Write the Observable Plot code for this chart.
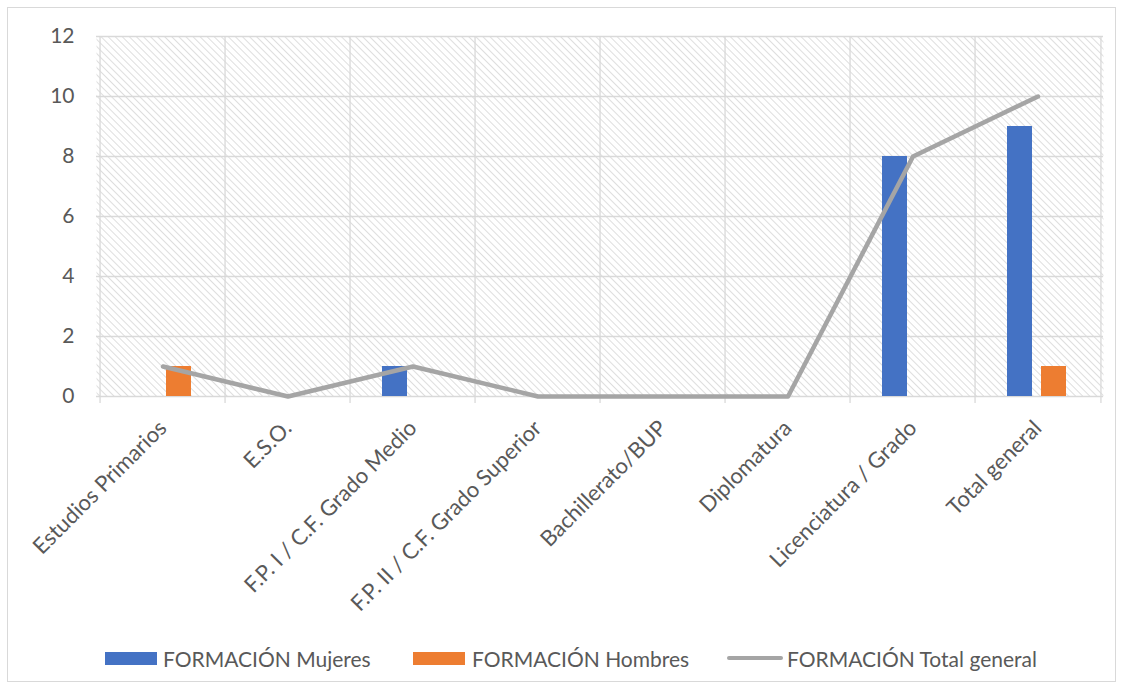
<!DOCTYPE html>
<html>
<head>
<meta charset="utf-8">
<script src="https://cdn.jsdelivr.net/npm/d3@7"></script>
<script src="https://cdn.jsdelivr.net/npm/@observablehq/plot@0.6"></script>
<style>
  html, body { margin: 0; padding: 0; background: #fff; }
  #wrap { position: relative; width: 1123px; height: 690px; font-family: Lato, "Open Sans", sans-serif; }
  #border { position: absolute; left: 7px; top: 7px; width: 1109px; height: 675px; border: 1px solid #d9d9d9; box-sizing: border-box; }
  #chart { position: absolute; left: 0; top: 0; }
  #legend { position: absolute; left: 0; top: 645px; width: 1123px; height: 26px; font-size: 21px; color: #595959; }
  .item { position: absolute; top: 0; height: 26px; display: flex; align-items: center; white-space: nowrap; }
  .sw { width: 52px; height: 13px; margin-right: 6px; }
  .ln { width: 56px; height: 4px; border-radius: 2px; background: #a5a5a5; margin-right: 4px; }
</style>
</head>
<body>
<div id="wrap">
  <div id="border"></div>
  <div id="chart"></div>
  <div id="legend">
    <div class="item" style="left:105px"><div class="sw" style="background:#4472c4"></div>FORMACIÓN Mujeres</div>
    <div class="item" style="left:413px"><div class="sw" style="background:#ed7d31; margin-right:7px"></div>FORMACIÓN Hombres</div>
    <div class="item" style="left:727px"><div class="ln"></div>FORMACIÓN Total general</div>
  </div>
</div>
<script>
// Education levels and counts per series
const categories = [
  "Estudios Primarios",
  "E.S.O.",
  "F.P. I / C.F. Grado Medio",
  "F.P. II / C.F. Grado Superior",
  "Bachillerato/BUP",
  "Diplomatura",
  "Licenciatura / Grado",
  "Total general"
];
const mujeres = [0, 0, 1, 0, 0, 0, 8, 9];
const hombres = [1, 0, 0, 0, 0, 0, 0, 1];
const totalGeneral = [1, 0, 1, 0, 0, 0, 8, 10];
const yTicks = [0, 2, 4, 6, 8, 10, 12];

const rows = categories.map((c, i) => ({cat: c, m: mujeres[i], h: hombres[i], t: totalGeneral[i]}));

const W = 1123, H = 630;
const mL = 96, mR = 20, mT = 36, mB = 234;
const bw = (W - mL - mR) / categories.length;
const grid = "#d9d9d9";

const chart = Plot.plot({
  width: W,
  height: H,
  marginLeft: mL,
  marginRight: mR,
  marginTop: mT,
  marginBottom: mB,
  style: {fontFamily: "Lato, 'Open Sans', sans-serif", fontSize: "21px", color: "#595959", background: "transparent"},
  x: {type: "band", domain: categories, padding: 0, label: null, tickSize: 0, tickRotate: -45, tickPadding: 28},
  y: {domain: [0, 12], ticks: yTicks, label: null, tickSize: 0, tickPadding: 22},
  marks: [
    // hatched plot area
    Plot.frame({fill: "url(#hatch)", stroke: null}),
    // horizontal gridlines
    Plot.ruleY(yTicks, {stroke: grid, strokeWidth: 1.3}),
    // vertical gridlines at category boundaries, with short ticks below the baseline
    Plot.ruleX(categories, {x: d => d, dx: -bw / 2, stroke: grid, strokeWidth: 1.3, insetBottom: -7}),
    Plot.ruleX(categories.slice(-1), {x: d => d, dx: bw / 2, stroke: grid, strokeWidth: 1.3, insetBottom: -7}),
    // Mujeres bars (left slot)
    Plot.barY(rows, {x: "cat", y: "m", fill: "#4472c4", insetLeft: 32, insetRight: 68}),
    // Hombres bars (right slot)
    Plot.barY(rows, {x: "cat", y: "h", fill: "#ed7d31", insetLeft: 66, insetRight: 34}),
    // Total general line
    Plot.line(rows, {x: "cat", y: "t", stroke: "#a5a5a5", strokeWidth: 4.5, strokeLinejoin: "round", strokeLinecap: "round"})
  ]
});

// diagonal hatch pattern for the plot background
const svg = d3.select(chart);
const defs = svg.insert("defs", ":first-child");
const pat = defs.append("pattern")
  .attr("id", "hatch")
  .attr("patternUnits", "userSpaceOnUse")
  .attr("width", 5)
  .attr("height", 5)
  .attr("patternTransform", "rotate(-45)");
pat.append("rect").attr("width", 5).attr("height", 5).attr("fill", "#ffffff");
pat.append("line").attr("x1", 0).attr("y1", 0).attr("x2", 0).attr("y2", 5)
  .attr("stroke", "#d6d6d6").attr("stroke-width", 1.6);

// slightly larger category labels
svg.selectAll("text")
  .filter(function() { return categories.includes(this.textContent); })
  .style("font-size", "22px");

document.getElementById("chart").appendChild(chart);
</script>
</body>
</html>
